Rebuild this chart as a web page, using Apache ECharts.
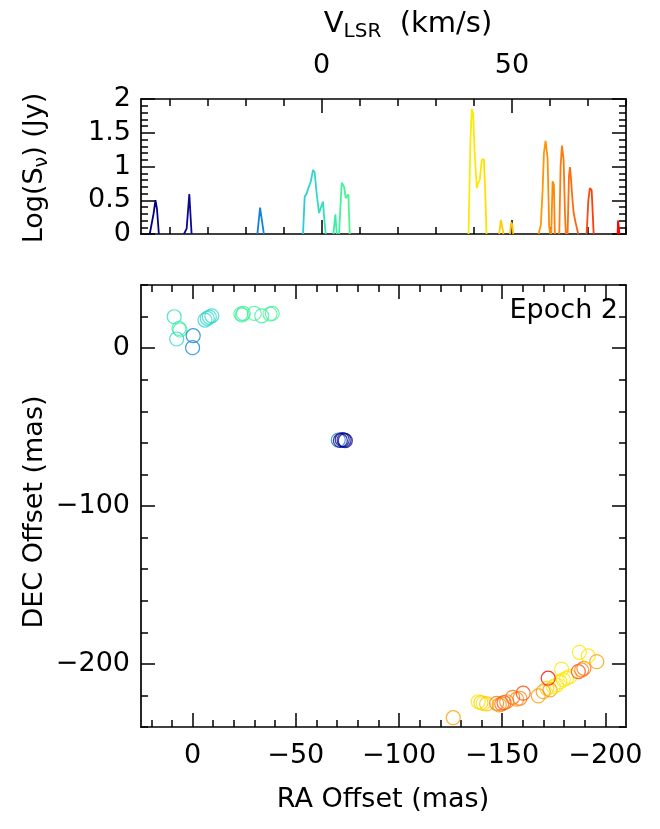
<!DOCTYPE html>
<html>
<head>
<meta charset="utf-8">
<script src="https://cdn.jsdelivr.net/npm/echarts@6/dist/echarts.min.js"></script>
<style>html,body{margin:0;padding:0;background:#fff}#c{width:660px;height:829px}</style>
</head>
<body>
<div id="c"></div>
<script>
// ---------- data ----------
// spectrum: velocity (km/s) and log flux (Jy); null separates channel groups
const specVel = [
  -45.2,-44.2,-43.7,-43.3,-42.8, null,
  -36.2,-35.5,-34.8,-34.2, null,
  -16.9,-16.2,-15.7,-15.2, null,
  -4.91,-4.47,-3.95,-3.33,-2.89,-2.28,-1.84,-1.32,-0.7,-0.26,0.35,0.7,1.05, null,
  3.07,3.6,3.95, null,
  4.56,5.26,5.88,6.32,7.02,7.37, null,
  38.6,39.1,39.47,39.8,40.26,40.79,41.1,41.58,42.1,42.63,42.98,43.33, null,
  46.67,47.1,47.55,47.8, null,
  49.47,49.8,50.1,50.35, null,
  57.0,57.6,58.08,58.42,58.86,59.39,59.8,60.08, null,
  60.35,60.7,61.05,61.3, null,
  62.46,62.8,63.16,63.6,63.95,64.2, null,
  64.65,65.0,65.26,65.5,65.8,66.2,66.7,67.0,67.45, null,
  69.65,70.1,70.5,70.97,71.5, null,
  77.8,77.9,78.24,78.3
];
const specFlux = [
  0,0.3,0.5,0.37,0, null,
  0,0.08,0.59,0, null,
  0,0.39,0.39,0, null,
  0,0.55,0.60,0.71,0.77,0.95,0.91,0.60,0.31,0.30,0.48,0.21,0, null,
  0,0.29,0, null,
  0,0.76,0.70,0.53,0.59,0, null,
  0,1.39,1.85,1.79,1.15,0.68,0.75,0.81,1.10,1.11,0.65,0, null,
  0,0.21,0.20,0, null,
  0,0.17,0.14,0, null,
  0,0.13,0.65,1.20,1.38,1.12,0.11,0, null,
  0,0.78,0.73,0, null,
  0,1.00,1.31,1.10,0.31,0, null,
  0,0.85,0.99,0.85,0.60,0.33,0.18,0.17,0, null,
  0,0.50,0.68,0.65,0, null,
  0,0.2,0.2,0
];
// maser spots: RA offset, DEC offset (mas), velocity (km/s)
const raOff = [
  8.9,6.6,6.1,7.7,-0.3,0.0,-6.0,-7.1,-8.1,-9.3,-23.4,-24.1,-24.6,-29.9,-33.5,-37.5,-38.6,
  -70.6,-71.6,-72.5,-73.4,-74.0,
  -126.3,-138.4,-139.7,-140.8,-142.5,-147.3,-148.6,-149.8,-150.9,-152.2,-155.1,-157.0,-158.6,-160.2,
  -167.5,-169.9,-171.6,-173.2,-174.8,-176.4,-178.0,-179.6,-181.2,-182.8,-172.3,-178.8,
  -186.9,-188.5,-189.6,-187.4,-191.7,-195.8
];
const decOff = [
  19.9,12.5,11.5,5.8,7.9,0.3,17.8,18.9,19.7,20.5,21.6,21.0,22.0,22.0,20.5,21.6,22.0,
  -58.2,-58.5,-58.0,-58.2,-58.6,
  -234.1,-224.0,-224.6,-225.0,-225.4,-225.0,-226.0,-225.4,-224.6,-224.0,-221.2,-222.4,-221.8,-218.6,
  -220.3,-217.6,-215.5,-216.5,-214.4,-213.4,-211.3,-210.2,-209.1,-208.1,-209.1,-203.4,
  -204.9,-203.9,-202.8,-192.7,-195.0,-198.6
];
const spotVel = [
  -1,4,3,-3,-16,-16,-2.5,-2.3,-2,-1.8,5.3,5.9,4.5,6.3,3.6,7.0,6.0,
  -16,-44,-35,-44,-35,
  57,41,47,42,50,63,58,65,70,61,66,59,63,70,
  57,58,47,60,40,42,39.5,41,43,40,78,39.5,
  70,63,65,40,42,57
];
// tick labels / tick positions
const velLabels = [0, 50];
const velMinor = [-40,-30,-20,-10,0,10,20,30,40,50,60,70,80];
const raLabels = [-200,-150,-100,-50,0];
const raMinor = [-200,-190,-180,-170,-160,-150,-140,-130,-120,-110,-100,-90,-80,-70,-60,-50,-40,-30,-20,-10,0,10,20];
const decLabels = [-200,-100,0];

// ---------- styling ----------
const FONT = "'DejaVu Sans', sans-serif";
const VMIN = -45, VMAX = 78.3;
const STOPS = ['#000080','#0a0a96','#1060d0','#20c0f0','#3ef0a0','#80ff60','#d0ff20','#ffe800','#ffb000','#ff6a10','#ff0000'];
function hex2rgb(h){return [parseInt(h.substr(1,2),16),parseInt(h.substr(3,2),16),parseInt(h.substr(5,2),16)];}
function cmap(v){
  let t = (v - VMIN) / (VMAX - VMIN); t = Math.max(0, Math.min(1, t));
  const f = t * (STOPS.length - 1); const i = Math.min(Math.floor(f), STOPS.length - 2); const u = f - i;
  const a = hex2rgb(STOPS[i]), b = hex2rgb(STOPS[i+1]);
  return 'rgb(' + a.map((x,k)=>Math.round(x + (b[k]-x)*u)).join(',') + ')';
}
const minus = v => String(v).replace('-', '\u2212');
const LINE = {show:true, onZero:false, lineStyle:{color:'#000', width:1.7}};
const NOLINE = {show:false, onZero:false};
const TICKSTYLE = {color:'#000', width:1.5};
const LBL = {color:'#000', fontSize:27, fontFamily:FONT};

const lineData = specVel.map((v,i)=> v === null ? [null,null] : [v, specFlux[i]]);
const spotData = raOff.map((r,i)=>({value:[r, decOff[i], spotVel[i]], itemStyle:{borderColor:cmap(spotVel[i])}}));

const chart = echarts.init(document.getElementById('c'), null, {renderer:'canvas'});
chart.setOption({
  animation:false,
  backgroundColor:'#fff',
  grid:[
    {left:141, top:99, width:485, height:135},
    {left:141, top:285, width:485, height:442}
  ],
  xAxis:[
    // spectrum panel
    {gridIndex:0, type:'value', position:'top', min:-47.5, max:80,
     axisLine:LINE, axisTick:{show:true, inside:true, length:7, customValues:velMinor, lineStyle:TICKSTYLE},
     axisLabel:Object.assign({show:true, customValues:velLabels, margin:20}, LBL), splitLine:{show:false}},
    {gridIndex:0, type:'value', position:'top', min:-47.5, max:80,
     axisLine:NOLINE, axisTick:{show:true, inside:true, length:14, customValues:velLabels, lineStyle:TICKSTYLE},
     axisLabel:{show:false}, splitLine:{show:false}},
    {gridIndex:0, type:'value', position:'bottom', min:-47.5, max:80,
     axisLine:LINE, axisTick:{show:true, inside:true, length:7, customValues:velMinor, lineStyle:TICKSTYLE},
     axisLabel:{show:false}, splitLine:{show:false}},
    {gridIndex:0, type:'value', position:'bottom', min:-47.5, max:80,
     axisLine:NOLINE, axisTick:{show:true, inside:true, length:14, customValues:velLabels, lineStyle:TICKSTYLE},
     axisLabel:{show:false}, splitLine:{show:false}},
    // spot map panel
    {gridIndex:1, type:'value', position:'bottom', inverse:true, min:-210, max:25,
     axisLine:LINE, axisTick:{show:true, inside:true, length:7, customValues:raMinor, lineStyle:TICKSTYLE},
     axisLabel:Object.assign({show:true, customValues:raLabels, margin:15, formatter:minus}, LBL), splitLine:{show:false}},
    {gridIndex:1, type:'value', position:'bottom', inverse:true, min:-210, max:25,
     axisLine:NOLINE, axisTick:{show:true, inside:true, length:14, customValues:raLabels, lineStyle:TICKSTYLE},
     axisLabel:{show:false}, splitLine:{show:false}},
    {gridIndex:1, type:'value', position:'top', inverse:true, min:-210, max:25,
     axisLine:LINE, axisTick:{show:true, inside:true, length:7, customValues:raMinor, lineStyle:TICKSTYLE},
     axisLabel:{show:false}, splitLine:{show:false}},
    {gridIndex:1, type:'value', position:'top', inverse:true, min:-210, max:25,
     axisLine:NOLINE, axisTick:{show:true, inside:true, length:14, customValues:raLabels, lineStyle:TICKSTYLE},
     axisLabel:{show:false}, splitLine:{show:false}}
  ],
  yAxis:[
    {gridIndex:0, type:'value', position:'left', min:0, max:2, interval:0.5,
     axisLine:LINE, axisTick:{show:true, inside:true, length:14, lineStyle:TICKSTYLE},
     minorTick:{show:true, splitNumber:5, length:7, lineStyle:TICKSTYLE},
     axisLabel:Object.assign({show:true, margin:10}, LBL), splitLine:{show:false}, minorSplitLine:{show:false}},
    {gridIndex:0, type:'value', position:'right', min:0, max:2, interval:0.5,
     axisLine:LINE, axisTick:{show:true, inside:true, length:14, lineStyle:TICKSTYLE},
     minorTick:{show:true, splitNumber:5, length:7, lineStyle:TICKSTYLE},
     axisLabel:{show:false}, splitLine:{show:false}, minorSplitLine:{show:false}},
    {gridIndex:1, type:'value', position:'left', min:-240, max:40, interval:20,
     axisLine:LINE, axisTick:{show:true, inside:true, length:7, lineStyle:TICKSTYLE},
     axisLabel:Object.assign({show:true, customValues:decLabels, margin:11, formatter:minus}, LBL), splitLine:{show:false}},
    {gridIndex:1, type:'value', position:'left', min:-240, max:40,
     axisLine:NOLINE, axisTick:{show:true, inside:true, length:14, customValues:decLabels, lineStyle:TICKSTYLE},
     axisLabel:{show:false}, splitLine:{show:false}},
    {gridIndex:1, type:'value', position:'right', min:-240, max:40, interval:20,
     axisLine:LINE, axisTick:{show:true, inside:true, length:7, lineStyle:TICKSTYLE},
     axisLabel:{show:false}, splitLine:{show:false}},
    {gridIndex:1, type:'value', position:'right', min:-240, max:40,
     axisLine:NOLINE, axisTick:{show:true, inside:true, length:14, customValues:decLabels, lineStyle:TICKSTYLE},
     axisLabel:{show:false}, splitLine:{show:false}}
  ],
  visualMap:[{
    type:'continuous', show:false, seriesIndex:0, dimension:0, min:VMIN, max:VMAX,
    inRange:{color:STOPS}
  }],
  series:[
    {type:'line', xAxisIndex:0, yAxisIndex:0, data:lineData, showSymbol:false, connectNulls:false,
     lineStyle:{width:1.8}, silent:true, z:3},
    {type:'scatter', xAxisIndex:4, yAxisIndex:2, data:spotData, symbol:'circle', symbolSize:14,
     itemStyle:{color:'rgba(0,0,0,0)', borderWidth:1.2}, silent:true, z:3}
  ],
  graphic:[
    {type:'text', x:408, y:24, style:{text:'{v|V}{s|LSR}{v|  (km/s)}', align:'center', verticalAlign:'middle',
      rich:{v:{fontSize:29, lineHeight:36, fontFamily:FONT, fill:'#000'}, s:{fontSize:20, fontFamily:FONT, fill:'#000', verticalAlign:'bottom'}}}},
    {type:'text', x:35, y:168, rotation:Math.PI/2, style:{text:'{v|Log(S}{s|\u03bd}{v|) (Jy)}', align:'center', verticalAlign:'middle',
      rich:{v:{fontSize:27, lineHeight:34, fontFamily:FONT, fill:'#000'}, s:{fontSize:19, fontFamily:FONT, fill:'#000', verticalAlign:'bottom'}}}},
    {type:'text', x:35, y:512, rotation:Math.PI/2, style:{text:'DEC Offset (mas)', align:'center', verticalAlign:'middle', fontSize:27, fontFamily:FONT, fill:'#000'}},
    {type:'text', x:383, y:800, style:{text:'RA Offset (mas)', align:'center', verticalAlign:'middle', fontSize:27, fontFamily:FONT, fill:'#000'}},
    {type:'text', x:618, y:311, style:{text:'Epoch 2', align:'right', verticalAlign:'middle', fontSize:27, fontFamily:FONT, fill:'#000'}}
  ]
});
</script>
</body>
</html>
